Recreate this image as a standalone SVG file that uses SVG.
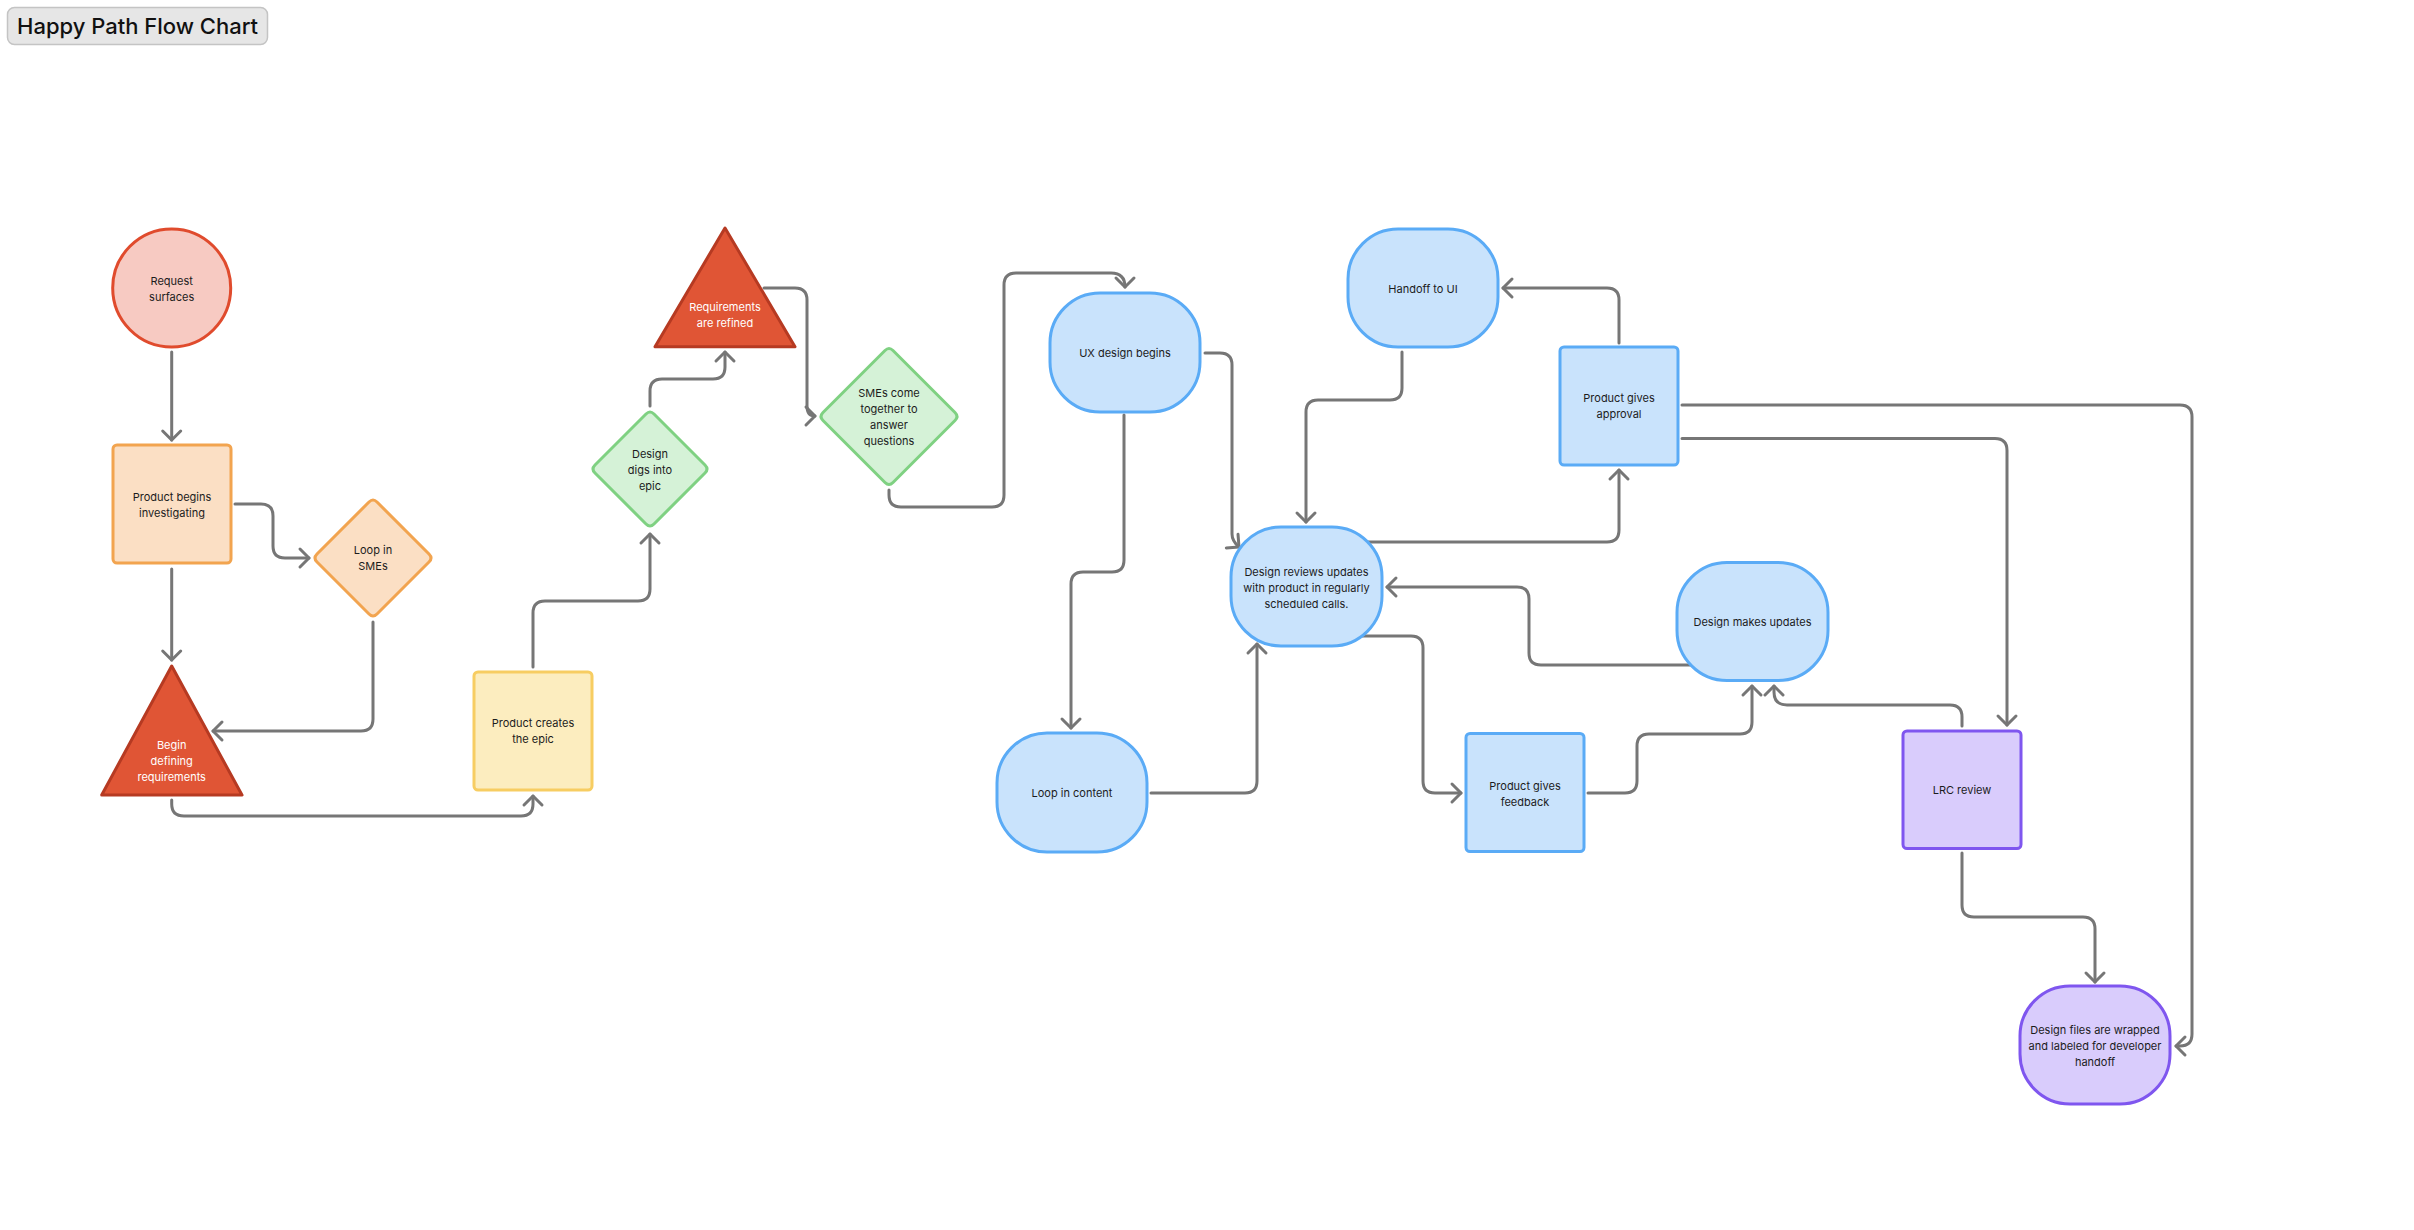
<svg xmlns="http://www.w3.org/2000/svg" width="2414" height="1230" viewBox="0 0 2414 1230">
<style>
  text { font-family: Inter, "Noto Sans", "Liberation Sans", sans-serif; font-size: 11px; fill: #1c1c1c; text-anchor: middle; dominant-baseline: central; }
  .w { fill: #ffffff; }
  .title { font-size: 22px; font-weight: 500; text-anchor: start; dominant-baseline: auto; fill: #111; }
  .red-c { fill: #F7CAC2; stroke: #E04B2D; stroke-width: 3; }
  .orange { fill: #FBDFC4; stroke: #F2A44F; stroke-width: 3; stroke-linejoin: round; }
  .tri { fill: #E05535; stroke: #B63A22; stroke-width: 3; stroke-linejoin: round; }
  .yellow { fill: #FCEDBF; stroke: #F7CD62; stroke-width: 3; }
  .green { fill: #D5F2D7; stroke: #7FD182; stroke-width: 3; stroke-linejoin: round; }
  .blue { fill: #C9E3FC; stroke: #5AABF6; stroke-width: 3; }
  .purple { fill: #D9CCFC; stroke: #7F56EF; stroke-width: 3; }
  .conn path { fill: none; stroke: #767676; stroke-width: 3; stroke-linecap: round; stroke-linejoin: round; marker-end: url(#arr); }
</style>
<defs>
  <marker id="arr" markerUnits="userSpaceOnUse" markerWidth="26" markerHeight="26" viewBox="-13 -13 26 26" refX="0" refY="0" orient="auto">
    <path d="M-9,-9 L0,0 L-9,9" fill="none" stroke="#767676" stroke-width="3" stroke-linecap="round" stroke-linejoin="round"/>
  </marker>
</defs>
<rect width="2414" height="1230" fill="#ffffff"/>

<g id="title">
  <rect x="7.5" y="7.5" width="260" height="37" rx="7" fill="#E6E6E6" stroke="#C4C4C4" stroke-width="1.5"/>
  <text class="title" x="17" y="34">Happy Path Flow Chart</text>
</g>

<g class="conn" id="connectors">
  <path d="M171.7,352 V440"/>
  <path d="M235,504 H261 Q273,504 273,516 V546 Q273,558 285,558 H309"/>
  <path d="M171.7,569 V660"/>
  <path d="M373,622 V719 Q373,731 361,731 H213"/>
  <path d="M171.7,800 V804 Q171.7,816 184,816 H521 Q533,816 533,804 V796"/>
  <path d="M533,667 V613 Q533,601 545,601 H638 Q650,601 650,589 V534"/>
  <path d="M650,406 V391 Q650,379 662,379 H713 Q725,379 725,367 V352"/>
  <path d="M764,288 H795 Q807,288 807,300 V406 Q807,416 815,416"/>
  <path d="M889,490 V495 Q889,507 901,507 H992 Q1004,507 1004,495 V285 Q1004,273 1016,273 H1111 Q1125,273 1125,287"/>
  <path d="M1205,353 H1220 Q1232,353 1232,365 V534 Q1232,541 1239,547"/>
  <path d="M1124,415 V560 Q1124,572 1112,572 H1083 Q1071,572 1071,584 V728"/>
  <path d="M1151,793 H1245 Q1257,793 1257,781 V644"/>
  <path d="M1402,352 V388 Q1402,400 1390,400 H1318 Q1306,400 1306,412 V522"/>
  <path d="M1368,542 H1607 Q1619,542 1619,530 V470"/>
  <path d="M1619,343 V300 Q1619,288 1607,288 H1503"/>
  <path d="M1690,665 H1541 Q1529,665 1529,653 V599 Q1529,587 1517,587 H1387"/>
  <path d="M1362,636 H1411 Q1423,636 1423,648 V781 Q1423,793 1435,793 H1461"/>
  <path d="M1588,793 H1625 Q1637,793 1637,781 V746 Q1637,734 1649,734 H1740 Q1752,734 1752,722 V686"/>
  <path d="M1962,726 V717 Q1962,705 1950,705 H1787 Q1774,705 1774,692 V686"/>
  <path d="M1682,438.5 H1995 Q2007,438.5 2007,450.5 V725"/>
  <path d="M1682,405 H2180 Q2192,405 2192,417 V1034 Q2192,1046 2180,1046 H2176"/>
  <path d="M1962,853 V905 Q1962,917 1974,917 H2083 Q2095,917 2095,929 V982"/>
</g>

<g id="n-request">
  <circle class="red-c" cx="171.7" cy="288" r="59"/>
  <text x="171.7" y="281">Request</text>
  <text x="171.7" y="297">surfaces</text>
</g>
<g id="n-product-begins">
  <rect class="orange" x="113" y="445" width="118" height="118" rx="4"/>
  <text x="172" y="497">Product begins</text>
  <text x="172" y="513">investigating</text>
</g>
<g id="n-loop-smes">
  <path class="orange" d="M369,502 Q373,498 377,502 L429,554 Q433,558 429,562 L377,614 Q373,618 369,614 L317,562 Q313,558 317,554 Z"/>
  <text x="373" y="550">Loop in</text>
  <text x="373" y="566">SMEs</text>
</g>
<g id="n-begin-defining">
  <path class="tri" d="M171.7,666 L242,795 L101.7,795 Z"/>
  <text class="w" x="171.7" y="745">Begin</text>
  <text class="w" x="171.7" y="761">defining</text>
  <text class="w" x="171.7" y="777">requirements</text>
</g>
<g id="n-product-creates">
  <rect class="yellow" x="474" y="672" width="118" height="118" rx="4"/>
  <text x="533" y="723">Product creates</text>
  <text x="533" y="739">the epic</text>
</g>
<g id="n-design-digs">
  <path class="green" d="M646,414 Q650,410 654,414 L705,465 Q709,469 705,473 L654,524 Q650,528 646,524 L595,473 Q591,469 595,465 Z"/>
  <text x="650" y="454">Design</text>
  <text x="650" y="470">digs into</text>
  <text x="650" y="486">epic</text>
</g>
<g id="n-req-refined">
  <path class="tri" d="M725,228 L795,346.7 L655,346.7 Z"/>
  <text class="w" x="725" y="307">Requirements</text>
  <text class="w" x="725" y="323">are refined</text>
</g>
<g id="n-smes-together">
  <path class="green" d="M885,350.5 Q889,346.5 893,350.5 L955,412.5 Q959,416.5 955,420.5 L893,482.5 Q889,486.5 885,482.5 L823,420.5 Q819,416.5 823,412.5 Z"/>
  <text x="889" y="392.5">SMEs come</text>
  <text x="889" y="408.5">together to</text>
  <text x="889" y="424.5">answer</text>
  <text x="889" y="440.5">questions</text>
</g>
<g id="n-ux-design">
  <rect class="blue" x="1050" y="293" width="150" height="119" rx="50" ry="50"/>
  <text x="1125" y="352.5">UX design begins</text>
</g>
<g id="n-loop-content">
  <rect class="blue" x="997" y="733" width="150" height="119" rx="50" ry="50"/>
  <text x="1072" y="793">Loop in content</text>
</g>
<g id="n-design-reviews">
  <rect class="blue" x="1231" y="527" width="151" height="119" rx="50" ry="50"/>
  <text x="1306.5" y="571.5">Design reviews updates</text>
  <text x="1306.5" y="587.5">with product in regularly</text>
  <text x="1306.5" y="603.5">scheduled calls.</text>
</g>
<g id="n-handoff-ui">
  <rect class="blue" x="1348" y="229" width="150" height="118" rx="50" ry="50"/>
  <text x="1423" y="288.5">Handoff to UI</text>
</g>
<g id="n-approval">
  <rect class="blue" x="1560" y="347" width="118" height="118" rx="4"/>
  <text x="1619" y="398">Product gives</text>
  <text x="1619" y="414">approval</text>
</g>
<g id="n-feedback">
  <rect class="blue" x="1466" y="733.5" width="118" height="118" rx="4"/>
  <text x="1525" y="785.5">Product gives</text>
  <text x="1525" y="801.5">feedback</text>
</g>
<g id="n-design-updates">
  <rect class="blue" x="1677" y="562.5" width="151" height="118" rx="50" ry="50"/>
  <text x="1752.5" y="622">Design makes updates</text>
</g>
<g id="n-lrc">
  <rect class="purple" x="1903" y="731" width="118" height="117.5" rx="4"/>
  <text x="1962" y="790">LRC review</text>
</g>
<g id="n-design-files">
  <rect class="purple" x="2020" y="986" width="150" height="118" rx="50" ry="50"/>
  <text x="2095" y="1030">Design files are wrapped</text>
  <text x="2095" y="1046">and labeled for developer</text>
  <text x="2095" y="1062">handoff</text>
</g>
</svg>
